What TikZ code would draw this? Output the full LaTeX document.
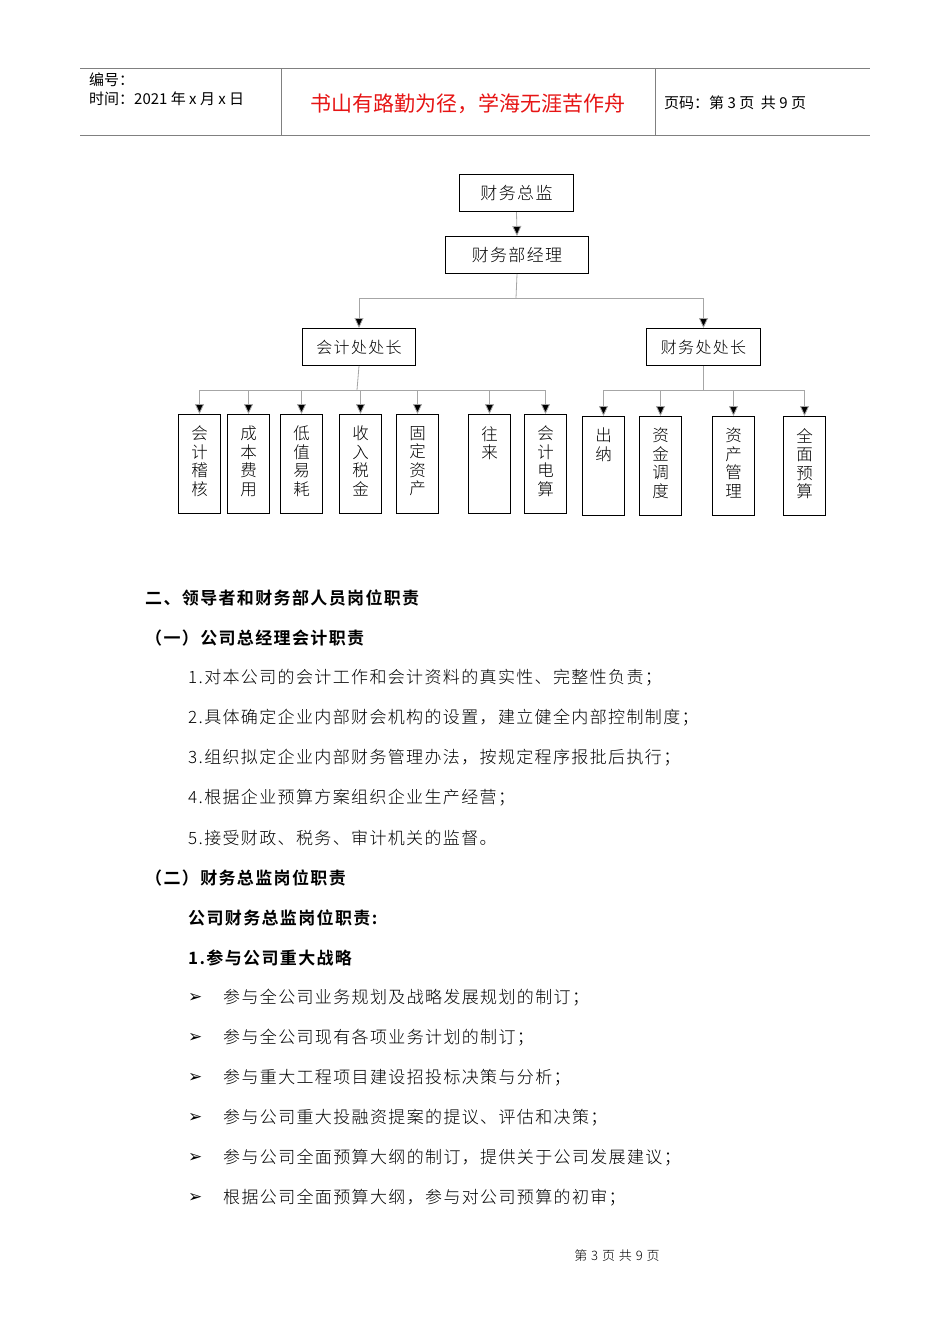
\documentclass[tikz,border=0pt]{standalone}
\usepackage{fontspec}
\setmainfont{Liberation Sans}
\newfontfamily\cjk{Noto Sans CJK SC}
\newfontfamily\cjkl{Noto Sans CJK SC Light}
\newfontfamily\cjks[LetterSpace=8]{Noto Sans CJK SC Light}
\newfontfamily\cjkh[LetterSpace=8]{Noto Sans CJK SC Bold}
\newfontfamily\sym{DejaVu Sans}
\usetikzlibrary{arrows.meta}
\begin{document}
\begin{tikzpicture}[x=1pt,y=-1pt,
  box/.style={draw,line width=1pt,inner sep=0pt,anchor=north west},
  vbox/.style={box},
  conn/.style={draw=gray!70,line width=0.8pt},
  arr/.style={conn,-{Triangle[length=10pt,width=9pt,fill=black]}},
  body/.style={anchor=west,font=\cjks\fontsize{17}{20}\selectfont,inner sep=0pt},
  head/.style={anchor=west,font=\cjkh\fontsize{17}{20}\selectfont,inner sep=0pt}]
\useasboundingbox (0,0) rectangle (950,1344);
% header
\draw[gray,line width=0.8pt] (80,68) -- (870,68) (80,135) -- (870,135);
\draw[gray,line width=0.8pt] (281,68) -- (281,135) (655,68) -- (655,135);
\node[anchor=west,inner sep=0pt,font=\cjk\fontsize{15}{19}\selectfont,align=left] (h1) at (89,89) {编号：\\时间：2021 年 x 月 x 日};
\node[inner sep=0pt,font=\cjk\fontsize{21}{24}\selectfont,text={rgb,255:red,230;green,20;blue,20}] (h2) at (468,104) {书山有路勤为径，学海无涯苦作舟};
\node[anchor=west,inner sep=0pt,font=\cjk\fontsize{15}{17}\selectfont] (h3) at (664,103) {页码：第 3 页\ \ 共 9 页};
% chart
\node[box,minimum width=114pt,minimum height=37pt,font=\cjks\fontsize{17}{19}\selectfont] (zj) at (459,174) {财务总监};
\node[box,minimum width=143pt,minimum height=37pt,font=\cjks\fontsize{17}{19}\selectfont] (jl) at (445,236) {财务部经理};
\node[box,minimum width=113pt,minimum height=37pt,font=\cjks\fontsize{16}{18}\selectfont] (kj) at (302,328) {会计处处长};
\node[box,minimum width=114pt,minimum height=37pt,font=\cjks\fontsize{16}{18}\selectfont] (cw) at (646,328) {财务处处长};
\draw[arr] (zj.south) -- (jl.north);
\coordinate (m) at (516,298);
\draw[conn] (jl.south) -- (m);
\draw[arr] (m) -| (kj.north);
\draw[arr] (m) -| (cw.north);
\foreach \n/\x/\t in {a/178/会\\计\\稽\\核, b/227/成\\本\\费\\用, c/280/低\\值\\易\\耗, d/339/收\\入\\税\\金, e/396/固\\定\\资\\产, f/468/往\\来, g/524/会\\计\\电\\算}{
  \node[vbox,minimum width=42pt,minimum height=99pt] (\n) at (\x,414) {};
  \node[anchor=north,inner sep=0pt,font=\cjkl\fontsize{16.5}{18.5}\selectfont,align=center] at ([yshift=-12pt]\n.north) {\t};
  \draw[arr] (\n.north|-0,390) -- (\n.north);
}
\draw[conn] (kj.south) -- (357,390);
\draw[conn] (a.north|-0,390) -- (g.north|-0,390);
\foreach \n/\x/\t in {p/582/出\\纳, q/639/资\\金\\调\\度, r/712/资\\产\\管\\理, s/783/全\\面\\预\\算}{
  \node[vbox,minimum width=42pt,minimum height=99pt] (\n) at (\x,416) {};
  \node[anchor=north,inner sep=0pt,font=\cjkl\fontsize{16.5}{18.5}\selectfont,align=center] at ([yshift=-12pt]\n.north) {\t};
  \draw[arr] (\n.north|-0,390) -- (\n.north);
}
\draw[conn] (cw.south) -- (cw.south|-0,390);
\draw[conn] (p.north|-0,390) -- (s.north|-0,390);
% body text
\node[head] (t1) at (145,598) {二、领导者和财务部人员岗位职责};
\node[head] (t2) at (145,638) {（一）公司总经理会计职责};
\node[body] (t3) at (188,678) {1.对本公司的会计工作和会计资料的真实性、完整性负责；};
\node[body] (t4) at (188,718) {2.具体确定企业内部财会机构的设置，建立健全内部控制制度；};
\node[body] (t5) at (188,758) {3.组织拟定企业内部财务管理办法，按规定程序报批后执行；};
\node[body] (t6) at (188,798) {4.根据企业预算方案组织企业生产经营；};
\node[body] (t7) at (188,838) {5.接受财政、税务、审计机关的监督。};
\node[head] (t8) at (145,878) {（二）财务总监岗位职责};
\node[head] (t9) at (188,918) {公司财务总监岗位职责:};
\node[head] (t10) at (188,958) {1.参与公司重大战略};
\foreach \y/\t in {998/参与全公司业务规划及战略发展规划的制订；,1038/参与全公司现有各项业务计划的制订；,1078/参与重大工程项目建设招投标决策与分析；,1118/参与公司重大投融资提案的提议、评估和决策；,1158/参与公司全面预算大纲的制订，提供关于公司发展建议；,1198/根据公司全面预算大纲，参与对公司预算的初审；}{
  \node[anchor=west,inner sep=0pt,font=\sym\fontsize{17}{18}\selectfont] at (188,\y) {➢};
  \node[body] at (223,\y) {\t};
}
\node[inner sep=0pt,font=\cjks\fontsize{13}{14}\selectfont] (ft) at (617,1256) {第 3 页 共 9 页};
\end{tikzpicture}
\end{document}
